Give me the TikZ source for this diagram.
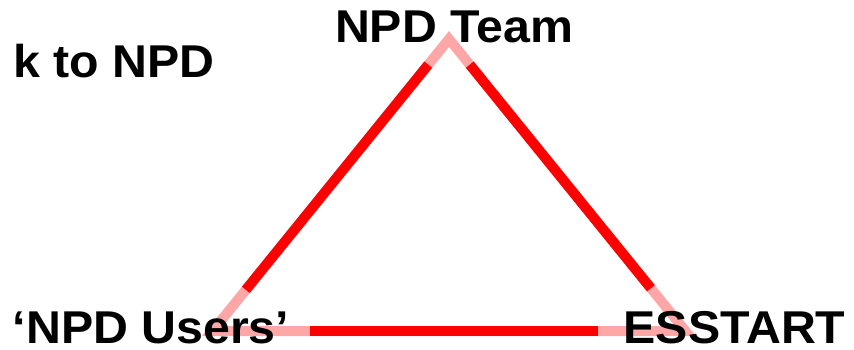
\documentclass[tikz,border=0pt]{standalone}
\usepackage{fontspec}
\setmainfont{Liberation Sans}[FakeStretch=1.05]
\usepackage{tikz}
\tikzset{
  lbl/.style={font=\fontsize{46}{50}\selectfont\bfseries, inner sep=0pt, text depth=0pt},
  side/.style={line width=10pt, red},
  faded/.style={line width=10pt, red!35, line join=miter},
}

\begin{document}
\begin{tikzpicture}[x=1pt,y=-1pt]
\useasboundingbox (0,0) rectangle (854,350);
\coordinate (T) at (449,39);
\coordinate (U) at (212.5,331);
\coordinate (E) at (685.5,331);
\draw[faded] (T) -- (U) -- (E) -- cycle;
\draw[side, shorten <=33pt, shorten >=53pt] (T) -- (U);
\draw[side, shorten <=33pt, shorten >=55pt] (T) -- (E);
\draw[side, shorten <=97pt, shorten >=88pt] (U) -- (E);
\node[lbl, anchor=base] (team) at (454,43) {NPD Team};
\node[lbl, anchor=base] (users) at (151,343) {`NPD Users'};
\node[lbl, anchor=base] (esstart) at (734.5,343) {ESSTART};
\node[lbl, anchor=base east] (link) at (215,78) {k to NPD};
\end{tikzpicture}
\end{document}
